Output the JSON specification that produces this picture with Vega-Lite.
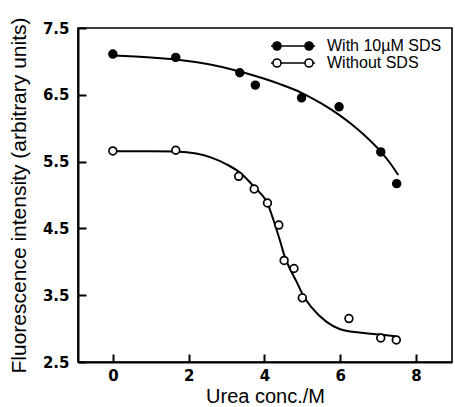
{
  "$schema": "https://vega.github.io/schema/vega-lite/v6.json",
  "width": 374,
  "height": 334,
  "autosize": {"type": "none"},
  "padding": {"left": 78, "top": 28, "right": 3, "bottom": 45},
  "background": "white",
  "config": {
    "view": {"stroke": "black", "strokeWidth": 1.6},
    "axis": {
      "grid": false,
      "domainColor": "black",
      "domainWidth": 2,
      "tickColor": "black",
      "tickWidth": 2,
      "tickSize": -8,
      "labelColor": "black",
      "labelFont": "DejaVu Sans",
      "labelFontWeight": "bold",
      "labelFontSize": 15,
      "titleColor": "black",
      "titleFont": "Liberation Sans",
      "titleFontWeight": "normal",
      "titleFontSize": 21
    }
  },
  "datasets": {
    "pts": [
      {"urea": 0, "fl": 7.11, "series": "With 10µM SDS"},
      {"urea": 1.66, "fl": 7.06, "series": "With 10µM SDS"},
      {"urea": 3.35, "fl": 6.83, "series": "With 10µM SDS"},
      {"urea": 3.76, "fl": 6.645, "series": "With 10µM SDS"},
      {"urea": 4.98, "fl": 6.455, "series": "With 10µM SDS"},
      {"urea": 5.97, "fl": 6.32, "series": "With 10µM SDS"},
      {"urea": 7.07, "fl": 5.645, "series": "With 10µM SDS"},
      {"urea": 7.49, "fl": 5.17, "series": "With 10µM SDS"},
      {"urea": 0, "fl": 5.66, "series": "Without SDS"},
      {"urea": 1.66, "fl": 5.67, "series": "Without SDS"},
      {"urea": 3.32, "fl": 5.28, "series": "Without SDS"},
      {"urea": 3.73, "fl": 5.09, "series": "Without SDS"},
      {"urea": 4.08, "fl": 4.88, "series": "Without SDS"},
      {"urea": 4.38, "fl": 4.55, "series": "Without SDS"},
      {"urea": 4.52, "fl": 4.02, "series": "Without SDS"},
      {"urea": 4.78, "fl": 3.9, "series": "Without SDS"},
      {"urea": 5.0, "fl": 3.46, "series": "Without SDS"},
      {"urea": 6.23, "fl": 3.15, "series": "Without SDS"},
      {"urea": 7.07, "fl": 2.86, "series": "Without SDS"},
      {"urea": 7.48, "fl": 2.83, "series": "Without SDS"}
    ],
    "fit": [
      {"urea": 0, "fl": 7.09, "curve": "a"},
      {"urea": 1.0, "fl": 7.06, "curve": "a"},
      {"urea": 1.66, "fl": 7.03, "curve": "a"},
      {"urea": 2.5, "fl": 6.96, "curve": "a"},
      {"urea": 3.35, "fl": 6.85, "curve": "a"},
      {"urea": 4.0, "fl": 6.74, "curve": "a"},
      {"urea": 4.41, "fl": 6.66, "curve": "a"},
      {"urea": 4.98, "fl": 6.53, "curve": "a"},
      {"urea": 5.5, "fl": 6.37, "curve": "a"},
      {"urea": 5.97, "fl": 6.2, "curve": "a"},
      {"urea": 6.3, "fl": 6.06, "curve": "a"},
      {"urea": 6.61, "fl": 5.91, "curve": "a"},
      {"urea": 7.07, "fl": 5.65, "curve": "a"},
      {"urea": 7.3, "fl": 5.49, "curve": "a"},
      {"urea": 7.53, "fl": 5.3, "curve": "a"},
      {"urea": 0, "fl": 5.655, "curve": "b"},
      {"urea": 1.0, "fl": 5.655, "curve": "b"},
      {"urea": 1.66, "fl": 5.65, "curve": "b"},
      {"urea": 2.2, "fl": 5.62, "curve": "b"},
      {"urea": 2.6, "fl": 5.56, "curve": "b"},
      {"urea": 3.0, "fl": 5.46, "curve": "b"},
      {"urea": 3.32, "fl": 5.35, "curve": "b"},
      {"urea": 3.73, "fl": 5.12, "curve": "b"},
      {"urea": 4.1, "fl": 4.85, "curve": "b"},
      {"urea": 4.27, "fl": 4.57, "curve": "b"},
      {"urea": 4.41, "fl": 4.32, "curve": "b"},
      {"urea": 4.54, "fl": 4.07, "curve": "b"},
      {"urea": 4.67, "fl": 3.9, "curve": "b"},
      {"urea": 4.85, "fl": 3.7, "curve": "b"},
      {"urea": 5.02, "fl": 3.5, "curve": "b"},
      {"urea": 5.24, "fl": 3.32, "curve": "b"},
      {"urea": 5.64, "fl": 3.1, "curve": "b"},
      {"urea": 6.0, "fl": 2.99, "curve": "b"},
      {"urea": 6.5, "fl": 2.94, "curve": "b"},
      {"urea": 7.04, "fl": 2.91, "curve": "b"},
      {"urea": 7.48, "fl": 2.88, "curve": "b"}
    ]
  },
  "layer": [
    {
      "data": {"name": "fit"},
      "mark": {"type": "line", "color": "black", "strokeWidth": 2, "interpolate": "monotone"},
      "encoding": {
        "x": {"field": "urea", "type": "quantitative", "scale": {"domain": [-0.92, 8.95], "nice": false, "zero": false},
              "axis": {"values": [0, 2, 4, 6, 8], "title": "Urea conc./M", "titleFontSize": 20, "labelPadding": 14, "titlePadding": 3}},
        "y": {"field": "fl", "type": "quantitative", "scale": {"domain": [2.5, 7.5], "nice": false, "zero": false},
              "axis": {"values": [2.5, 3.5, 4.5, 5.5, 6.5, 7.5], "format": ".1f", "title": "Fluorescence intensity (arbitrary units)", "labelPadding": 17, "titlePadding": 13}},
        "detail": {"field": "curve"}
      }
    },
    {
      "data": {"name": "pts"},
      "mark": {"type": "point", "shape": "circle", "size": 60, "stroke": "black", "strokeWidth": 1.7, "opacity": 1, "filled": false},
      "encoding": {
        "x": {"field": "urea", "type": "quantitative"},
        "y": {"field": "fl", "type": "quantitative"},
        "fill": {
          "field": "series", "type": "nominal",
          "scale": {"domain": ["With 10µM SDS", "Without SDS"], "range": ["black", "white"]},
          "legend": {
            "orient": "none", "legendX": 207, "legendY": 10, "title": null, "padding": 0,
            "symbolType": "M-4.4,0L-4,0M-2.4,0L2.4,0M4,0L4.4,0M-4,0A0.8,0.8 0 1,0 -2.4,0A0.8,0.8 0 1,0 -4,0M2.4,0A0.8,0.8 0 1,0 4,0A0.8,0.8 0 1,0 2.4,0",
            "symbolSize": 100, "symbolStrokeColor": "black", "symbolStrokeWidth": 1.6, "symbolOpacity": 1,
            "labelFont": "Liberation Sans", "labelFontSize": 16, "labelColor": "black", "labelOffset": 26, "rowPadding": 1
          }
        }
      }
    }
  ]
}
